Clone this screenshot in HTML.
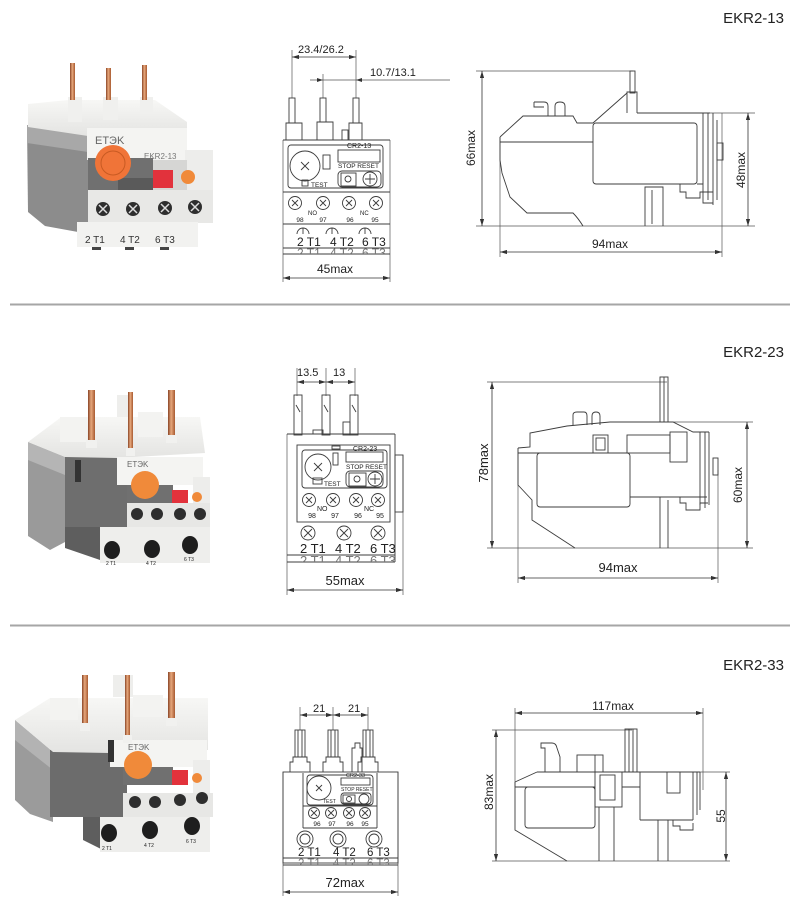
<!DOCTYPE html>
<html><head><meta charset="utf-8">
<style>
html,body{margin:0;padding:0;background:#fff;}
svg{display:block;}
text{font-family:"Liberation Sans",sans-serif;fill:#222;}
.d{fill:none;stroke:#3c3c3c;stroke-width:0.9;}
.dm{fill:none;stroke:#333;stroke-width:0.8;marker-start:url(#a);marker-end:url(#a);}
.e{fill:none;stroke:#555;stroke-width:0.7;}
.s{fill:none;stroke:#333;stroke-width:0.9;}
</style></head><body>
<svg width="800" height="899" viewBox="0 0 800 899" xmlns="http://www.w3.org/2000/svg">
<defs>
<marker id="a" viewBox="0 0 10 6" refX="10" refY="3" markerWidth="7" markerHeight="4.2" orient="auto-start-reverse" markerUnits="userSpaceOnUse"><path d="M0,0 L10,3 L0,6z" fill="#333"/></marker>
<linearGradient id="cu" x1="0" x2="1" y1="0" y2="0"><stop offset="0" stop-color="#8a4526"/><stop offset="0.45" stop-color="#e6a77c"/><stop offset="1" stop-color="#a85a30"/></linearGradient>
<linearGradient id="wh" x1="0" x2="0" y1="0" y2="1"><stop offset="0" stop-color="#f7f7f5"/><stop offset="1" stop-color="#e4e4e2"/></linearGradient>
<clipPath id="c1"><rect x="280" y="248" width="120" height="6"/></clipPath>
<clipPath id="c2"><rect x="280" y="555" width="130" height="7"/></clipPath>
<clipPath id="c3"><rect x="280" y="858" width="130" height="7"/></clipPath>
</defs>

<!-- titles -->
<text x="784" y="23" text-anchor="end" font-size="15">EKR2-13</text>
<text x="784" y="357" text-anchor="end" font-size="15">EKR2-23</text>
<text x="784" y="670" text-anchor="end" font-size="15">EKR2-33</text>

<!-- separators -->
<line x1="10" y1="304.5" x2="790" y2="304.5" stroke="#a6a6a6" stroke-width="2"/>
<line x1="10" y1="625.5" x2="790" y2="625.5" stroke="#a6a6a6" stroke-width="2"/>

<!-- ================= PHOTO 1 ================= -->
<g>
<polygon points="27,125 88,133 88,225 78,232 45,226 28,212" fill="#8c8c8c"/>
<polygon points="27,125 88,133 88,152 27,143" fill="#a8a8a8"/>
<polygon points="28,104 68,100 155,100 187,122 187,136 88,136 28,127" fill="url(#wh)"/>
<rect x="87" y="128" width="100" height="32" fill="#f4f4f2"/>
<rect x="185" y="150" width="28" height="42" fill="#ededeb"/>
<rect x="88" y="158" width="65" height="34" fill="#707070"/>
<rect x="153" y="160" width="34" height="32" fill="#d6d6d4"/>
<rect x="118" y="178" width="35" height="12" fill="#5a5a5a"/>
<circle cx="113" cy="163" r="18" fill="#f07438"/>
<circle cx="113" cy="163" r="12" fill="none" stroke="#c85a22" stroke-width="1"/>
<rect x="153" y="170" width="20" height="18" fill="#e2323c"/>
<circle cx="188" cy="177" r="7" fill="#f08a3a"/>
<text x="95" y="144" font-size="11" style="fill:#666">ETЭK</text>
<text x="144" y="159" font-size="8" style="fill:#777">EKR2-13</text>
<rect x="88" y="190" width="125" height="33" fill="#e8e8e6"/>
<g fill="#2e2e2e"><circle cx="103" cy="209" r="7"/><circle cx="133" cy="209" r="7"/><circle cx="165" cy="208" r="7"/><circle cx="195" cy="207" r="7"/></g>
<g stroke="#ddd" stroke-width="1.5"><path d="M99,205 L107,213 M107,205 L99,213"/><path d="M129,205 L137,213 M137,205 L129,213"/><path d="M161,204 L169,212 M169,204 L161,212"/><path d="M191,203 L199,211 M199,203 L191,211"/></g>
<polygon points="77,222 198,222 198,247 77,247" fill="#f2f2f0"/>
<text x="85" y="243" font-size="10" style="fill:#333">2 T1</text>
<text x="120" y="243" font-size="10" style="fill:#333">4 T2</text>
<text x="155" y="243" font-size="10" style="fill:#333">6 T3</text>
<g fill="#444"><rect x="92" y="247" width="9" height="3"/><rect x="125" y="247" width="9" height="3"/><rect x="160" y="247" width="9" height="3"/></g>
<rect x="68" y="97" width="14" height="25" fill="#f0f0ee"/>
<rect x="103" y="97" width="15" height="23" fill="#f0f0ee"/>
<rect x="140" y="97" width="13" height="16" fill="#f0f0ee"/>
<rect x="70" y="63" width="5" height="37" fill="url(#cu)"/>
<rect x="106" y="68" width="5" height="32" fill="url(#cu)"/>
<rect x="142" y="65" width="5" height="35" fill="url(#cu)"/>
</g>

<!-- ================= FRONT 1 ================= -->
<text x="298" y="53" font-size="11">23.4/26.2</text>
<line class="dm" x1="292" y1="57" x2="356" y2="57"/>
<text x="370" y="76" font-size="11">10.7/13.1</text>
<line class="e" x1="310" y1="80" x2="450" y2="80"/>
<polygon points="317,78 323,80 317,82" fill="#333"/>
<polygon points="362,78 356,80 362,82" fill="#333"/>
<g class="e">
<line x1="292" y1="50" x2="292" y2="98"/>
<line x1="356" y1="50" x2="356" y2="98"/>
<line x1="323" y1="74" x2="323" y2="98"/>
<line x1="283" y1="140" x2="283" y2="282"/>
<line x1="390" y1="140" x2="390" y2="282"/>
</g>
<line class="dm" x1="283" y1="278" x2="390" y2="278"/>
<text x="335" y="273" text-anchor="middle" font-size="12">45max</text>
<g class="d">
<rect x="289" y="98" width="6" height="25"/>
<rect x="320" y="98" width="6" height="24"/>
<rect x="353" y="98" width="6" height="25"/>
<path d="M286,140 V123 H302 V140"/>
<path d="M317,140 V122 H333 V140"/>
<path d="M349,140 V123 H362 V140"/>
<rect x="342" y="130" width="6" height="10"/>
<line x1="283" y1="140" x2="390" y2="140"/>
<rect x="288" y="145" width="95" height="43" rx="3"/>
<circle cx="305" cy="166" r="15"/>
<path d="M301,162 L309,170 M309,162 L301,170"/>
<rect x="323" y="155" width="7" height="14"/>
<rect x="302" y="180" width="6" height="6"/>
<rect x="338" y="150" width="42" height="12"/>
<rect x="338" y="171" width="43" height="16" rx="4"/>
<rect x="341" y="173" width="15" height="13"/>
<circle cx="348" cy="179" r="3"/>
<circle cx="370" cy="179" r="7"/>
<path d="M370,174 V184 M365,179 H375"/>
<line x1="283" y1="192" x2="390" y2="192"/>
<circle cx="295" cy="203" r="6.5"/><path d="M292,200 L298,206 M298,200 L292,206"/>
<circle cx="323" cy="203" r="6.5"/><path d="M320,200 L326,206 M326,200 L320,206"/>
<circle cx="349" cy="203" r="6.5"/><path d="M346,200 L352,206 M352,200 L346,206"/>
<circle cx="376" cy="203" r="6.5"/><path d="M373,200 L379,206 M379,200 L373,206"/>
<line x1="283" y1="224" x2="390" y2="224"/>
<path d="M297,234 A6,6 0 0 1 309,234 M303,228 V234"/>
<path d="M326,234 A6,6 0 0 1 338,234 M332,228 V234"/>
<path d="M359,234 A6,6 0 0 1 371,234 M365,228 V234"/>
<line x1="283" y1="248" x2="390" y2="248"/>
<line x1="283" y1="254" x2="390" y2="254"/>
</g>
<text x="347" y="148" font-size="7">CR2-13</text>
<text x="338" y="168" font-size="6.5">STOP RESET</text>
<text x="311" y="187" font-size="6.5">TEST</text>
<text x="308" y="215" font-size="6">NO</text>
<text x="360" y="215" font-size="6">NC</text>
<g font-size="6.5" text-anchor="middle"><text x="300" y="222">98</text><text x="323" y="222">97</text><text x="350" y="222">96</text><text x="375" y="222">95</text></g>
<text x="297" y="246" font-size="12">2 T1</text>
<text x="330" y="246" font-size="12">4 T2</text>
<text x="362" y="246" font-size="12">6 T3</text>
<g clip-path="url(#c1)"><text x="297" y="257" font-size="12" style="fill:#777">2 T1</text><text x="330" y="257" font-size="12" style="fill:#777">4 T2</text><text x="362" y="257" font-size="12" style="fill:#777">6 T3</text></g>

<!-- ================= SIDE 1 ================= -->
<g class="e">
<line x1="476" y1="71" x2="633" y2="71"/>
<line x1="476" y1="226" x2="755" y2="226"/>
<line x1="637" y1="113" x2="755" y2="113"/>
<line x1="500" y1="137" x2="500" y2="257"/>
<line x1="722" y1="113" x2="722" y2="257"/>
</g>
<line class="dm" x1="482" y1="71" x2="482" y2="226"/>
<line class="dm" x1="748" y1="113" x2="748" y2="226"/>
<line class="dm" x1="500" y1="252" x2="722" y2="252"/>
<text transform="translate(475,148) rotate(-90)" text-anchor="middle" font-size="12">66max</text>
<text transform="translate(745,170) rotate(-90)" text-anchor="middle" font-size="12">48max</text>
<text x="610" y="248" text-anchor="middle" font-size="12">94max</text>
<g class="d">
<rect x="630" y="71" width="5" height="22"/>
<path d="M627,113 V92 H637 V113"/>
<path d="M593,123 L627,93"/>
<path d="M500,137 L523,116 L573,116 L577,123 L593,123"/>
<path d="M500,137 V160 L502,173 L510,197 L527,213 L573,213 Q578,218 583,226"/>
<line x1="500" y1="142" x2="593" y2="142"/>
<rect x="593" y="123" width="104" height="61" rx="3"/>
<line x1="637" y1="113" x2="710" y2="113"/>
<path d="M645,226 V187 H663 V226"/>
<line x1="652" y1="190" x2="652" y2="224"/>
<path d="M697,184 H703 V203 H713"/>
<line x1="703" y1="113" x2="703" y2="184"/>
<line x1="708" y1="113" x2="708" y2="200"/>
<line x1="713" y1="113" x2="713" y2="205"/>
<line x1="717" y1="120" x2="717" y2="200"/>
<rect x="717" y="143" width="6" height="17"/>
<path d="M680,184 V192 H686 V198 H700 V192 H713"/>
<path d="M534,102 H544 Q548,102 548,106 V116 M534,102 V107 H544"/>
<path d="M555,116 V106 Q555,102 560,102 Q565,102 565,106 V116"/>
</g>

<!-- ================= PHOTO 2 ================= -->
<g>
<polygon points="28,442 65,457 65,542 50,550 28,536" fill="#9a9a9a"/>
<polygon points="28,442 65,457 65,475 28,460" fill="#b5b5b5"/>
<rect x="65" y="455" width="62" height="75" fill="#6e6e6e"/>
<polygon points="65,527 100,527 100,560 65,548" fill="#5e5e5e"/>
<polygon points="28,442 60,418 87,417 200,417 205,453 117,458 65,457" fill="url(#wh)"/>
<rect x="60" y="417" width="27" height="25" fill="#f3f3f1"/>
<rect x="138" y="412" width="25" height="25" fill="#f3f3f1"/>
<rect x="117" y="395" width="16" height="22" fill="#eeeeec"/>
<rect x="117" y="457" width="86" height="28" fill="#f4f4f2"/>
<rect x="75" y="460" width="6" height="22" fill="#333"/>
<rect x="127" y="485" width="46" height="18" fill="#707070"/>
<rect x="193" y="477" width="17" height="26" fill="#ededeb"/>
<circle cx="145" cy="485" r="14" fill="#f08a3a"/>
<rect x="172" y="490" width="16" height="13" fill="#e2323c"/>
<circle cx="197" cy="497" r="5" fill="#f08a3a"/>
<text x="127" y="467" font-size="8" style="fill:#666">ETЭK</text>
<rect x="127" y="503" width="83" height="24" fill="#e7e7e5"/>
<g fill="#2e2e2e"><circle cx="137" cy="514" r="6"/><circle cx="157" cy="514" r="6"/><circle cx="180" cy="514" r="6"/><circle cx="200" cy="514" r="6"/></g>
<rect x="100" y="527" width="110" height="36" fill="#eeeeec"/>
<g fill="#1e1e1e"><ellipse cx="112" cy="550" rx="8" ry="9"/><ellipse cx="152" cy="549" rx="8" ry="9"/><ellipse cx="190" cy="545" rx="8" ry="9"/></g>
<g font-size="5" style="fill:#555"><text x="106" y="565">2 T1</text><text x="146" y="565">4 T2</text><text x="184" y="561">6 T3</text></g>
<rect x="88" y="390" width="7" height="52" fill="url(#cu)"/>
<rect x="128" y="392" width="5" height="58" fill="url(#cu)"/>
<rect x="168" y="390" width="7" height="47" fill="url(#cu)"/>
<rect x="86" y="440" width="11" height="8" fill="#f1f1ef"/>
<rect x="126" y="448" width="9" height="8" fill="#f1f1ef"/>
<rect x="166" y="435" width="11" height="8" fill="#f1f1ef"/>
</g>

<!-- ================= FRONT 2 ================= -->
<text x="297" y="376" font-size="11">13.5</text>
<text x="333" y="376" font-size="11">13</text>
<line class="dm" x1="297" y1="382" x2="326" y2="382"/>
<line class="dm" x1="326" y1="382" x2="355" y2="382"/>
<g class="e">
<line x1="297" y1="368" x2="297" y2="396"/>
<line x1="326" y1="368" x2="326" y2="396"/>
<line x1="355" y1="368" x2="355" y2="396"/>
<line x1="287" y1="434" x2="287" y2="595"/>
<line x1="403" y1="455" x2="403" y2="595"/>
</g>
<line class="dm" x1="287" y1="590" x2="403" y2="590"/>
<text x="345" y="585" text-anchor="middle" font-size="13">55max</text>
<g class="d">
<rect x="294" y="395" width="8" height="40"/><path d="M296,405 L300,412"/>
<rect x="322" y="395" width="8" height="40"/><path d="M324,405 L328,412"/>
<rect x="350" y="395" width="8" height="40"/><path d="M352,405 L356,412"/>
<rect x="343" y="422" width="7" height="13"/>
<rect x="313" y="430" width="10" height="4"/>
<line x1="287" y1="434" x2="395" y2="434"/>
<line x1="395" y1="434" x2="395" y2="562"/>
<rect x="395" y="455" width="8" height="57"/>
<rect x="297" y="445" width="93" height="77"/>
<rect x="302" y="450" width="85" height="38" rx="3"/>
<circle cx="318" cy="467" r="13"/>
<path d="M314,463 L322,471 M322,463 L314,471"/>
<rect x="333" y="453" width="5" height="12"/>
<rect x="313" y="478" width="9" height="6"/>
<rect x="332" y="446" width="8" height="3"/>
<rect x="346" y="452" width="37" height="10"/>
<rect x="346" y="471" width="37" height="16" rx="4"/>
<rect x="349" y="473" width="17" height="13"/>
<circle cx="357" cy="479" r="3"/>
<circle cx="375" cy="479" r="7"/>
<path d="M375,474 V484 M370,479 H380"/>
<circle cx="309" cy="500" r="6.5"/><path d="M306,497 L312,503 M312,497 L306,503"/>
<circle cx="333" cy="500" r="6.5"/><path d="M330,497 L336,503 M336,497 L330,503"/>
<circle cx="356" cy="500" r="6.5"/><path d="M353,497 L359,503 M359,497 L353,503"/>
<circle cx="378" cy="500" r="6.5"/><path d="M375,497 L381,503 M381,497 L375,503"/>
<circle cx="308" cy="533" r="7"/><path d="M304,529 L312,537 M312,529 L304,537"/>
<circle cx="344" cy="533" r="7"/><path d="M340,529 L348,537 M348,529 L340,537"/>
<circle cx="378" cy="533" r="7"/><path d="M374,529 L382,537 M382,529 L374,537"/>
<line x1="287" y1="555" x2="395" y2="555"/>
<line x1="287" y1="562" x2="395" y2="562"/>
</g>
<text x="353" y="451" font-size="7">CR2-23</text>
<text x="346" y="469" font-size="6.5">STOP RESET</text>
<text x="324" y="486" font-size="6.5">TEST</text>
<text x="317" y="511" font-size="7">NO</text>
<text x="364" y="511" font-size="7">NC</text>
<g font-size="7" text-anchor="middle"><text x="312" y="518">98</text><text x="335" y="518">97</text><text x="358" y="518">96</text><text x="380" y="518">95</text></g>
<text x="300" y="553" font-size="13">2 T1</text>
<text x="335" y="553" font-size="13">4 T2</text>
<text x="370" y="553" font-size="13">6 T3</text>
<g clip-path="url(#c2)"><text x="300" y="565" font-size="13" style="fill:#777">2 T1</text><text x="335" y="565" font-size="13" style="fill:#777">4 T2</text><text x="370" y="565" font-size="13" style="fill:#777">6 T3</text></g>

<!-- ================= SIDE 2 ================= -->
<g class="e">
<line x1="487" y1="382" x2="667" y2="382"/>
<line x1="487" y1="548" x2="753" y2="548"/>
<line x1="673" y1="422" x2="753" y2="422"/>
<line x1="518" y1="448" x2="518" y2="583"/>
<line x1="718" y1="470" x2="718" y2="583"/>
</g>
<line class="dm" x1="492" y1="382" x2="492" y2="548"/>
<line class="dm" x1="747" y1="422" x2="747" y2="548"/>
<line class="dm" x1="518" y1="578" x2="718" y2="578"/>
<text transform="translate(488,463) rotate(-90)" text-anchor="middle" font-size="13">78max</text>
<text transform="translate(742,485) rotate(-90)" text-anchor="middle" font-size="12">60max</text>
<text x="618" y="572" text-anchor="middle" font-size="13">94max</text>
<g class="d">
<rect x="660" y="377" width="8" height="45"/>
<line x1="664" y1="377" x2="664" y2="422"/>
<path d="M518,448 L530,447 V433 L567,426 L610,422 L673,422 L693,432 L709,432"/>
<path d="M518,448 V485 L532,500 V520 L575,548"/>
<line x1="518" y1="453" x2="628" y2="453"/>
<rect x="537" y="453" width="93" height="54" rx="3"/>
<rect x="627" y="435" width="43" height="18"/>
<rect x="670" y="432" width="17" height="30"/>
<line x1="630" y1="497" x2="707" y2="497"/>
<path d="M660,548 V497 M668,548 V500"/>
<line x1="700" y1="432" x2="700" y2="505"/>
<line x1="705" y1="432" x2="705" y2="508"/>
<line x1="709" y1="432" x2="709" y2="505"/>
<rect x="713" y="458" width="5" height="17"/>
<path d="M680,497 V503 H686 V510 H700 V503 H708"/>
<path d="M573,425 V415 Q573,412 577,412 H584 Q587,412 587,416 V425"/>
<path d="M592,425 V416 Q592,412 596,412 Q600,412 600,416 V425"/>
<rect x="593" y="435" width="15" height="18"/>
<rect x="596" y="438" width="9" height="12"/>
</g>

<!-- ================= PHOTO 3 ================= -->
<g>
<polygon points="15,720 53,752 53,822 30,814 15,800" fill="#9b9b9b"/>
<polygon points="15,720 53,752 53,770 15,740" fill="#b3b3b3"/>
<rect x="50" y="750" width="77" height="67" fill="#6c6c6c"/>
<polygon points="83,817 107,817 107,852 83,840" fill="#5e5e5e"/>
<polygon points="15,720 50,698 208,698 208,750 110,753 53,752" fill="url(#wh)"/>
<rect x="50" y="698" width="28" height="22" fill="#f3f3f1"/>
<rect x="133" y="695" width="30" height="22" fill="#f3f3f1"/>
<rect x="113" y="675" width="20" height="22" fill="#eeeeec"/>
<rect x="110" y="740" width="97" height="27" fill="#f4f4f2"/>
<rect x="108" y="740" width="6" height="22" fill="#333"/>
<rect x="123" y="767" width="50" height="18" fill="#707070"/>
<rect x="193" y="760" width="17" height="33" fill="#ededeb"/>
<circle cx="138" cy="765" r="14" fill="#f08a3a"/>
<rect x="172" y="770" width="16" height="15" fill="#e2323c"/>
<circle cx="197" cy="778" r="5" fill="#f08a3a"/>
<text x="128" y="750" font-size="8" style="fill:#666">ETЭK</text>
<rect x="123" y="793" width="90" height="24" fill="#e7e7e5"/>
<g fill="#2e2e2e"><circle cx="135" cy="802" r="6"/><circle cx="155" cy="802" r="6"/><circle cx="180" cy="800" r="6"/><circle cx="202" cy="798" r="6"/></g>
<rect x="100" y="817" width="110" height="35" fill="#eeeeec"/>
<g fill="#1e1e1e"><ellipse cx="109" cy="833" rx="8" ry="9"/><ellipse cx="150" cy="830" rx="8" ry="9"/><ellipse cx="192" cy="826" rx="8" ry="9"/></g>
<g font-size="5" style="fill:#555"><text x="102" y="850">2 T1</text><text x="144" y="847">4 T2</text><text x="186" y="843">6 T3</text></g>
<rect x="82" y="675" width="6" height="50" fill="url(#cu)"/>
<rect x="125" y="675" width="5" height="62" fill="url(#cu)"/>
<rect x="168" y="672" width="7" height="48" fill="url(#cu)"/>
<rect x="80" y="723" width="10" height="8" fill="#f1f1ef"/>
<rect x="123" y="735" width="9" height="8" fill="#f1f1ef"/>
<rect x="166" y="718" width="11" height="8" fill="#f1f1ef"/>
</g>

<!-- ================= FRONT 3 ================= -->
<text x="313" y="712" font-size="11">21</text>
<text x="348" y="712" font-size="11">21</text>
<line class="dm" x1="300" y1="715" x2="333" y2="715"/>
<line class="dm" x1="333" y1="715" x2="368" y2="715"/>
<g class="e">
<line x1="300" y1="707" x2="300" y2="730"/>
<line x1="333" y1="707" x2="333" y2="730"/>
<line x1="368" y1="707" x2="368" y2="730"/>
<line x1="283" y1="772" x2="283" y2="896"/>
<line x1="398" y1="772" x2="398" y2="896"/>
</g>
<line class="dm" x1="283" y1="892" x2="398" y2="892"/>
<text x="345" y="887" text-anchor="middle" font-size="13">72max</text>
<g class="d">
<rect x="295" y="730" width="10" height="27"/><path d="M298,730 V757 M302,730 V757"/>
<rect x="328" y="730" width="10" height="27"/><path d="M331,730 V757 M335,730 V757"/>
<rect x="363" y="730" width="10" height="27"/><path d="M366,730 V757 M370,730 V757"/>
<path d="M290,772 V762 H293 V757 H307 V762 H310 V772"/>
<path d="M323,772 V762 H326 V757 H340 V762 H343 V772"/>
<path d="M358,772 V762 H361 V757 H375 V762 H378 V772"/>
<path d="M352,772 V748 H355 V743 H360 V748 H362 V772"/>
<rect x="283" y="772" width="115" height="91"/>
<line x1="303" y1="773" x2="303" y2="828"/>
<line x1="377" y1="773" x2="377" y2="828"/>
<rect x="307" y="775" width="66" height="30" rx="3"/>
<circle cx="319" cy="788" r="12"/>
<path d="M316,785 L322,791 M322,785 L316,791"/>
<rect x="341" y="778" width="29" height="7"/>
<rect x="341" y="793" width="30" height="11" rx="3"/>
<rect x="343" y="795" width="12" height="8"/>
<circle cx="349" cy="799" r="2.5"/>
<circle cx="364" cy="799" r="5"/>
<line x1="303" y1="806" x2="377" y2="806"/>
<circle cx="314" cy="813" r="5.5"/><path d="M311,810 L317,816 M317,810 L311,816"/>
<circle cx="331" cy="813" r="5.5"/><path d="M328,810 L334,816 M334,810 L328,816"/>
<circle cx="349" cy="813" r="5.5"/><path d="M346,810 L352,816 M352,810 L346,816"/>
<circle cx="365" cy="813" r="5.5"/><path d="M362,810 L368,816 M368,810 L362,816"/>
<line x1="303" y1="828" x2="377" y2="828"/>
<circle cx="305" cy="839" r="8"/><circle cx="305" cy="839" r="5"/>
<circle cx="338" cy="839" r="8"/><circle cx="338" cy="839" r="5"/>
<circle cx="374" cy="839" r="8"/><circle cx="374" cy="839" r="5"/>
<line x1="283" y1="858" x2="398" y2="858"/>
<line x1="283" y1="865" x2="398" y2="865"/>
</g>
<text x="346" y="777" font-size="5.5">CR2-33</text>
<text x="341" y="791" font-size="5">STOP RESET</text>
<text x="323" y="803" font-size="5">TEST</text>
<g font-size="6.5" text-anchor="middle"><text x="317" y="826">96</text><text x="332" y="826">97</text><text x="350" y="826">96</text><text x="365" y="826">95</text></g>
<text x="298" y="856" font-size="11.5">2 T1</text>
<text x="333" y="856" font-size="11.5">4 T2</text>
<text x="367" y="856" font-size="11.5">6 T3</text>
<g clip-path="url(#c3)"><text x="298" y="867" font-size="11.5" style="fill:#777">2 T1</text><text x="333" y="867" font-size="11.5" style="fill:#777">4 T2</text><text x="367" y="867" font-size="11.5" style="fill:#777">6 T3</text></g>

<!-- ================= SIDE 3 ================= -->
<g class="e">
<line x1="515" y1="708" x2="515" y2="787"/>
<line x1="703" y1="708" x2="703" y2="790"/>
<line x1="492" y1="730" x2="632" y2="730"/>
<line x1="492" y1="861" x2="730" y2="861"/>
<line x1="700" y1="772" x2="730" y2="772"/>
</g>
<line class="dm" x1="515" y1="713" x2="703" y2="713"/>
<line class="dm" x1="496" y1="730" x2="496" y2="861"/>
<line class="dm" x1="726" y1="772" x2="726" y2="861"/>
<text x="613" y="710" text-anchor="middle" font-size="12">117max</text>
<text transform="translate(493,792) rotate(-90)" text-anchor="middle" font-size="12">83max</text>
<text transform="translate(725,816) rotate(-90)" text-anchor="middle" font-size="12">55</text>
<g class="d">
<line x1="537" y1="772" x2="700" y2="772"/>
<path d="M515,782 L537,772"/>
<path d="M515,782 V830 L567,861"/>
<line x1="515" y1="787" x2="595" y2="787"/>
<line x1="622" y1="787" x2="640" y2="787"/>
<rect x="525" y="787" width="70" height="41" rx="3"/>
<rect x="595" y="772" width="27" height="35"/>
<rect x="600" y="775" width="15" height="25"/>
<path d="M599,807 V861 M614,807 V861"/>
<line x1="640" y1="772" x2="640" y2="820"/>
<line x1="640" y1="820" x2="693" y2="820"/>
<path d="M658,861 V820 M668,861 V820"/>
<rect x="625" y="729" width="12" height="43"/>
<path d="M629,729 V772 M633,729 V772"/>
<path d="M545,772 V748 H541 V743 H552 Q556,743 557,748 L560,757 V772"/>
<rect x="577" y="755" width="26" height="17"/>
<line x1="595" y1="755" x2="595" y2="772"/>
<rect x="667" y="772" width="13" height="21"/>
<line x1="693" y1="772" x2="693" y2="820"/>
<line x1="697" y1="772" x2="697" y2="815"/>
<line x1="700" y1="772" x2="700" y2="810"/>
<path d="M673,820 V826 H680 V830 H693 V823"/>
</g>
</svg>
</body></html>
